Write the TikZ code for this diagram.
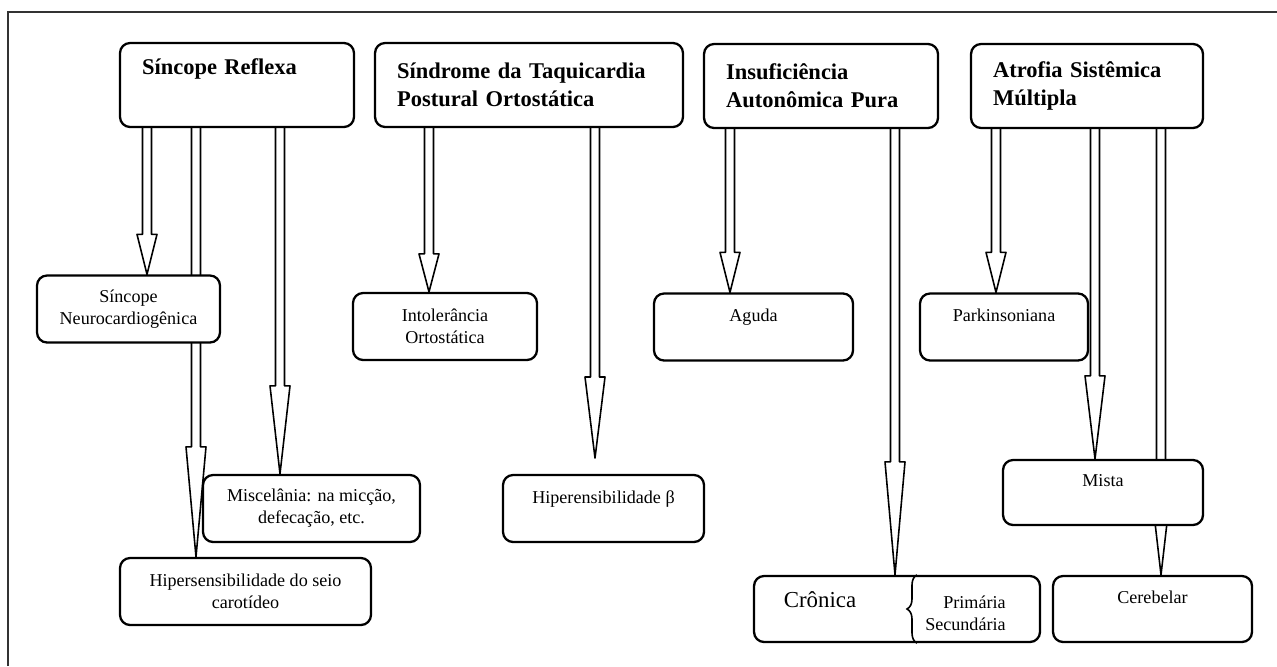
\documentclass[tikz,border=0pt]{standalone}
\usepackage{fontspec}
\setmainfont{Liberation Serif}
\usetikzlibrary{calc,backgrounds,decorations.pathreplacing}

\def\shaft{4.5}
\def\barb{10}
\newcommand{\headfont}{\fontsize{12.8}{15.9}\selectfont\bfseries}
\newcommand{\leaffont}{\fontsize{10.3}{12.5}\selectfont}
\newcommand{\lowline}{\\[-3pt]\strut}

% hollow arrow: x, source box, tip point, head length
\newcommand{\hollowarrow}[4]{%
  \draw[hollow arrow] (#1-\shaft,0 |- #2.south)
    -- ($(#1-\shaft,0 |- #3)+(0,-#4)$) -- ($(#1-\barb,0 |- #3)+(0,-#4)$)
    -- (#1,0 |- #3)
    -- ($(#1+\barb,0 |- #3)+(0,-#4)$) -- ($(#1+\shaft,0 |- #3)+(0,-#4)$)
    -- (#1+\shaft,0 |- #2.south);}

\begin{document}
\begin{tikzpicture}[x=0.02cm, y=-0.02cm]
    \tikzstyle{box}=[draw, line width=1.3pt, fill=white, rounded corners=0.2cm]
    \tikzstyle{head box}=[box, font=\headfont, align=left, inner xsep=0.44cm, minimum height=1.68cm]
    \tikzstyle{leaf box}=[box, font=\leaffont, align=center, inner sep=2pt, minimum height=1.34cm]
    \tikzstyle{hollow arrow}=[draw, fill=white, line width=0.9pt, line join=round]
    \tikzstyle{frame line}=[line width=0.8pt, black!80]

    \useasboundingbox (0,0) rectangle (1277,666);
    \draw[frame line] (8,666) -- (8,12) -- (1277,12);

    % groups
    \node[head box, text width=3.8cm]  (sr)   at (237,85)  {Síncope Reflexa\\\strut};
    \node[head box, text width=5.28cm] (stpo) at (529,85)  {Síndrome da Taquicardia\\Postural Ortostática};
    \node[head box, text width=3.8cm]  (iap)  at (821,86)  {Insuficiência\\Autonômica Pura};
    \node[head box, text width=3.76cm] (asm)  at (1087,86) {Atrofia Sistêmica\\Múltipla};

    % forms
    \node[leaf box, minimum width=3.66cm] (neuro)     at (128.5,309)  {Síncope\\Neurocardiogênica};
    \node[leaf box, minimum width=3.68cm] (intol)     at (445,326.5)  {Intolerância\\Ortostática};
    \node[leaf box, minimum width=4.34cm] (misc)      at (311.5,508.5) {Miscelânia: na micção,\\defecação, etc.};
    \node[leaf box, minimum width=5.02cm] (hipseio)   at (245.5,591.5) {Hipersensibilidade do seio\\carotídeo};
    \node[leaf box, minimum width=4.02cm] (hipbeta)   at (603.5,508.5) {Hiperensibilidade β\lowline};
    \node[leaf box, minimum width=3.98cm] (aguda)     at (753.5,327)  {Aguda\lowline};
    \node[leaf box, minimum width=3.36cm] (parkin)    at (1004,327)   {Parkinsoniana\lowline};
    \node[leaf box, minimum width=4.0cm, minimum height=1.3cm] (mista) at (1103,492.5) {Mista\lowline};
    \node[leaf box, minimum width=5.72cm, minimum height=1.32cm] (cronica) at (897,609) {};
    \node[leaf box, minimum width=3.98cm, minimum height=1.32cm] (cerebelar) at (1152.5,609) {Cerebelar\lowline};

    \node[font=\fontsize{13}{15}\selectfont, inner sep=0pt] (cronlabel) at (820,600) {Crônica};
    \node[font=\leaffont, align=right, anchor=east, inner sep=0pt] (cronkinds) at (1006,613) {Primária\\Secundária};
    \draw[line width=0.9pt, decorate, decoration={brace, amplitude=0.2cm}]
        (917,0 |- cronica.south) -- (917,0 |- cronica.north);

    \coordinate (betaend) at (595,458);

    \begin{scope}[on background layer]
    \foreach \x/\src/\tip/\len in {147/sr/neuro.north/40, 196/sr/hipseio.north/110,
                                   280/sr/misc.north/88, 429/stpo/intol.north/38,
                                   595/stpo/betaend/81, 730/iap/aguda.north/40,
                                   895/iap/cronica.north/113, 996/asm/parkin.north/40,
                                   1095/asm/mista.north/83, 1161/asm/cerebelar.north/87}
        {\hollowarrow{\x}{\src}{\tip}{\len}}
    \end{scope}
\end{tikzpicture}
\end{document}
